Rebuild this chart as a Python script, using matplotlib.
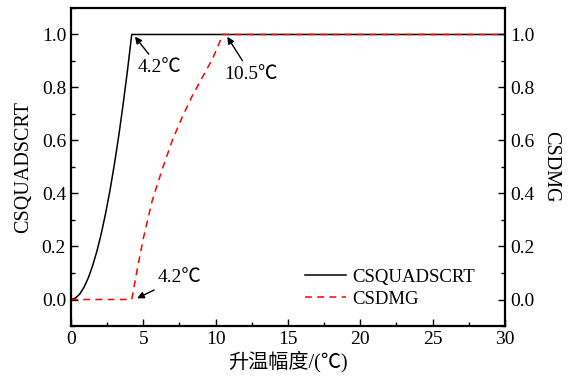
import matplotlib
matplotlib.use("Agg")
import matplotlib.pyplot as plt
from matplotlib.ticker import MultipleLocator

plt.rcParams["font.family"] = ["Liberation Serif", "Noto Sans CJK SC"]

# CSQUADSCRT: quadratic rise to 1 at 4.2 °C
quad_x = [0, 0.3, 0.6, 0.9, 1.2, 1.5, 1.8, 2.1, 2.4, 2.7, 3.0, 3.3, 3.6, 3.9, 4.2, 10, 20, 30]
quad_y = [0, 0.005, 0.02, 0.046, 0.082, 0.128, 0.184, 0.25, 0.327, 0.413, 0.51, 0.617,
          0.735, 0.862, 1.0, 1.0, 1.0, 1.0]

# CSDMG: starts at 4.2 °C, reaches 1 at 10.5 °C
dmg_x = [0, 4.2, 4.6, 5.0, 5.6, 6.3, 7.0, 7.7, 8.4, 9.1, 9.8, 10.5, 20, 30]
dmg_y = [0, 0.0, 0.12, 0.23, 0.37, 0.49, 0.60, 0.69, 0.77, 0.84, 0.91, 1.0, 1.0, 1.0]

fig = plt.figure(figsize=(5.71, 3.8), dpi=100)
ax = fig.add_axes([0.1243, 0.1421, 0.7601, 0.8369])

ax.plot(quad_x, quad_y, color="black", linewidth=1.1, label="CSQUADSCRT")
ax.plot(dmg_x, dmg_y, color="red", linewidth=1.1, linestyle=(0, (4.5, 3.5)), label="CSDMG")

ax.set_xlim(0, 30)
ax.set_ylim(-0.1, 1.1)

ax2 = ax.twinx()
ax2.set_ylim(ax.get_ylim())
ax2.set_yticks([])
ax2.set_ylabel("CSDMG", fontsize=14.5, rotation=270, labelpad=40)
for s in ax2.spines.values():
    s.set_visible(False)

ax.xaxis.set_major_locator(MultipleLocator(5))
ax.xaxis.set_minor_locator(MultipleLocator(2.5))
ax.yaxis.set_minor_locator(MultipleLocator(0.1))
ax.set_yticks([0, 0.2, 0.4, 0.6, 0.8, 1.0])
ax.set_yticklabels(["0.0", "0.2", "0.4", "0.6", "0.8", "1.0"])
ax.tick_params(which="both", direction="in", labelsize=14, top=False, right=True,
               left=True)
ax.tick_params(axis="y", which="both", left=True, right=True, labelleft=True, labelright=True)
ax.tick_params(which="major", length=5, width=1)
ax.tick_params(which="minor", length=3, width=1)
for s in ax.spines.values():
    s.set_linewidth(1.6)

ax.set_xlabel("升温幅度/(℃)", fontsize=14.5, labelpad=2)
ax.set_ylabel("CSQUADSCRT", fontsize=14.5, labelpad=6)

arrow = dict(arrowstyle="-|>", color="black", lw=1.0, mutation_scale=10)
ax.annotate("4.2℃", xy=(4.3, 1.0), xytext=(4.6, 0.875), va="center", fontsize=14,
            arrowprops=arrow)
ax.annotate("10.5℃", xy=(10.7, 1.0), xytext=(10.6, 0.85), va="center", fontsize=14,
            arrowprops=arrow)
ax.annotate("4.2℃", xy=(4.4, 0.0), xytext=(6.0, 0.083), va="center", fontsize=14,
            arrowprops=arrow)

ax.legend(loc="lower right", bbox_to_anchor=(0.97, 0.005), frameon=False, fontsize=13.5,
          handlelength=2.2, handletextpad=0.35, labelspacing=0.25)

fig.savefig("out.png", dpi=100)
